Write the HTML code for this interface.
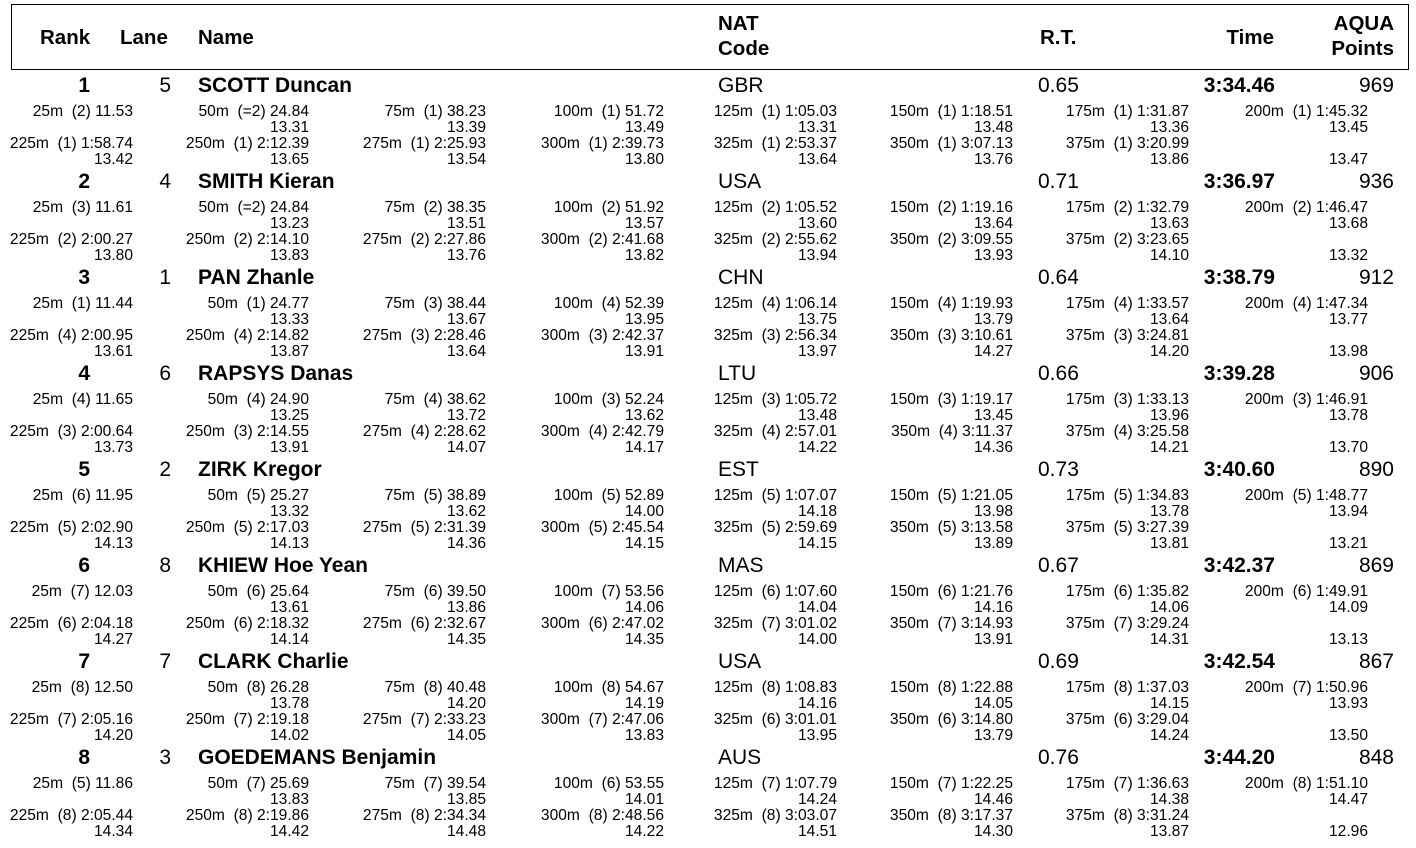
<!DOCTYPE html>
<html><head><meta charset="utf-8"><style>
body{margin:0;width:1416px;height:848px;background:#fff;position:relative;overflow:hidden;font-family:"Liberation Sans",Arial,sans-serif;color:#000}
.hb{position:absolute;left:11px;top:4px;width:1396px;height:64px;border:1.5px solid #000}
.h{position:absolute;font-weight:bold;font-size:20.5px;line-height:24px;white-space:pre}
.blk{position:absolute;left:0;width:1416px;height:96px}
.n{position:absolute;top:0;font-size:21px;line-height:20px;white-space:pre}
.b{font-weight:bold}
.s{position:absolute;width:200px;text-align:right;font-size:15.6px;line-height:16px;white-space:pre}
.c1{left:-67px}.c2{left:109px}.c3{left:286px}.c4{left:464px}.c5{left:637px}.c6{left:813px}.c7{left:989px}.c8{left:1168px}
.ra{top:28px}.rb{top:44px}.rc{top:60px}.rd{top:76px}
.rk{left:40px;width:50px;text-align:right}.ln{left:120px;width:51px;text-align:right}.nm{left:198px}.nt{left:718px}.rt{left:1038px}.tm{left:1175px;width:100px;text-align:right}.pt{left:1294px;width:100px;text-align:right}
</style></head><body>
<div class="hb"></div>
<div class="h" style="left:40px;top:26px">Rank</div>
<div class="h" style="left:120px;top:26px">Lane</div>
<div class="h" style="left:198px;top:26px">Name</div>
<div class="h" style="left:718px;top:12px">NAT</div>
<div class="h" style="left:718px;top:37px">Code</div>
<div class="h" style="left:1040px;top:26px">R.T.</div>
<div class="h" style="left:1174px;top:26px;width:100px;text-align:right">Time</div>
<div class="h" style="left:1294px;top:12px;width:100px;text-align:right">AQUA</div>
<div class="h" style="left:1294px;top:37px;width:100px;text-align:right">Points</div>

<div class="blk" style="top:76px">
<div class="n b rk">1</div><div class="n ln">5</div><div class="n b nm">SCOTT Duncan</div><div class="n nt">GBR</div><div class="n rt">0.65</div><div class="n b tm">3:34.46</div><div class="n pt">969</div>
<div class="s c1 ra">25m  (2) 11.53</div>
<div class="s c2 ra">50m  (=2) 24.84</div><div class="s c2 rb">13.31</div>
<div class="s c3 ra">75m  (1) 38.23</div><div class="s c3 rb">13.39</div>
<div class="s c4 ra">100m  (1) 51.72</div><div class="s c4 rb">13.49</div>
<div class="s c5 ra">125m  (1) 1:05.03</div><div class="s c5 rb">13.31</div>
<div class="s c6 ra">150m  (1) 1:18.51</div><div class="s c6 rb">13.48</div>
<div class="s c7 ra">175m  (1) 1:31.87</div><div class="s c7 rb">13.36</div>
<div class="s c8 ra">200m  (1) 1:45.32</div><div class="s c8 rb">13.45</div>
<div class="s c1 rc">225m  (1) 1:58.74</div><div class="s c1 rd">13.42</div>
<div class="s c2 rc">250m  (1) 2:12.39</div><div class="s c2 rd">13.65</div>
<div class="s c3 rc">275m  (1) 2:25.93</div><div class="s c3 rd">13.54</div>
<div class="s c4 rc">300m  (1) 2:39.73</div><div class="s c4 rd">13.80</div>
<div class="s c5 rc">325m  (1) 2:53.37</div><div class="s c5 rd">13.64</div>
<div class="s c6 rc">350m  (1) 3:07.13</div><div class="s c6 rd">13.76</div>
<div class="s c7 rc">375m  (1) 3:20.99</div><div class="s c7 rd">13.86</div>
<div class="s c8 rd">13.47</div>
</div>

<div class="blk" style="top:172px">
<div class="n b rk">2</div><div class="n ln">4</div><div class="n b nm">SMITH Kieran</div><div class="n nt">USA</div><div class="n rt">0.71</div><div class="n b tm">3:36.97</div><div class="n pt">936</div>
<div class="s c1 ra">25m  (3) 11.61</div>
<div class="s c2 ra">50m  (=2) 24.84</div><div class="s c2 rb">13.23</div>
<div class="s c3 ra">75m  (2) 38.35</div><div class="s c3 rb">13.51</div>
<div class="s c4 ra">100m  (2) 51.92</div><div class="s c4 rb">13.57</div>
<div class="s c5 ra">125m  (2) 1:05.52</div><div class="s c5 rb">13.60</div>
<div class="s c6 ra">150m  (2) 1:19.16</div><div class="s c6 rb">13.64</div>
<div class="s c7 ra">175m  (2) 1:32.79</div><div class="s c7 rb">13.63</div>
<div class="s c8 ra">200m  (2) 1:46.47</div><div class="s c8 rb">13.68</div>
<div class="s c1 rc">225m  (2) 2:00.27</div><div class="s c1 rd">13.80</div>
<div class="s c2 rc">250m  (2) 2:14.10</div><div class="s c2 rd">13.83</div>
<div class="s c3 rc">275m  (2) 2:27.86</div><div class="s c3 rd">13.76</div>
<div class="s c4 rc">300m  (2) 2:41.68</div><div class="s c4 rd">13.82</div>
<div class="s c5 rc">325m  (2) 2:55.62</div><div class="s c5 rd">13.94</div>
<div class="s c6 rc">350m  (2) 3:09.55</div><div class="s c6 rd">13.93</div>
<div class="s c7 rc">375m  (2) 3:23.65</div><div class="s c7 rd">14.10</div>
<div class="s c8 rd">13.32</div>
</div>

<div class="blk" style="top:268px">
<div class="n b rk">3</div><div class="n ln">1</div><div class="n b nm">PAN Zhanle</div><div class="n nt">CHN</div><div class="n rt">0.64</div><div class="n b tm">3:38.79</div><div class="n pt">912</div>
<div class="s c1 ra">25m  (1) 11.44</div>
<div class="s c2 ra">50m  (1) 24.77</div><div class="s c2 rb">13.33</div>
<div class="s c3 ra">75m  (3) 38.44</div><div class="s c3 rb">13.67</div>
<div class="s c4 ra">100m  (4) 52.39</div><div class="s c4 rb">13.95</div>
<div class="s c5 ra">125m  (4) 1:06.14</div><div class="s c5 rb">13.75</div>
<div class="s c6 ra">150m  (4) 1:19.93</div><div class="s c6 rb">13.79</div>
<div class="s c7 ra">175m  (4) 1:33.57</div><div class="s c7 rb">13.64</div>
<div class="s c8 ra">200m  (4) 1:47.34</div><div class="s c8 rb">13.77</div>
<div class="s c1 rc">225m  (4) 2:00.95</div><div class="s c1 rd">13.61</div>
<div class="s c2 rc">250m  (4) 2:14.82</div><div class="s c2 rd">13.87</div>
<div class="s c3 rc">275m  (3) 2:28.46</div><div class="s c3 rd">13.64</div>
<div class="s c4 rc">300m  (3) 2:42.37</div><div class="s c4 rd">13.91</div>
<div class="s c5 rc">325m  (3) 2:56.34</div><div class="s c5 rd">13.97</div>
<div class="s c6 rc">350m  (3) 3:10.61</div><div class="s c6 rd">14.27</div>
<div class="s c7 rc">375m  (3) 3:24.81</div><div class="s c7 rd">14.20</div>
<div class="s c8 rd">13.98</div>
</div>

<div class="blk" style="top:364px">
<div class="n b rk">4</div><div class="n ln">6</div><div class="n b nm">RAPSYS Danas</div><div class="n nt">LTU</div><div class="n rt">0.66</div><div class="n b tm">3:39.28</div><div class="n pt">906</div>
<div class="s c1 ra">25m  (4) 11.65</div>
<div class="s c2 ra">50m  (4) 24.90</div><div class="s c2 rb">13.25</div>
<div class="s c3 ra">75m  (4) 38.62</div><div class="s c3 rb">13.72</div>
<div class="s c4 ra">100m  (3) 52.24</div><div class="s c4 rb">13.62</div>
<div class="s c5 ra">125m  (3) 1:05.72</div><div class="s c5 rb">13.48</div>
<div class="s c6 ra">150m  (3) 1:19.17</div><div class="s c6 rb">13.45</div>
<div class="s c7 ra">175m  (3) 1:33.13</div><div class="s c7 rb">13.96</div>
<div class="s c8 ra">200m  (3) 1:46.91</div><div class="s c8 rb">13.78</div>
<div class="s c1 rc">225m  (3) 2:00.64</div><div class="s c1 rd">13.73</div>
<div class="s c2 rc">250m  (3) 2:14.55</div><div class="s c2 rd">13.91</div>
<div class="s c3 rc">275m  (4) 2:28.62</div><div class="s c3 rd">14.07</div>
<div class="s c4 rc">300m  (4) 2:42.79</div><div class="s c4 rd">14.17</div>
<div class="s c5 rc">325m  (4) 2:57.01</div><div class="s c5 rd">14.22</div>
<div class="s c6 rc">350m  (4) 3:11.37</div><div class="s c6 rd">14.36</div>
<div class="s c7 rc">375m  (4) 3:25.58</div><div class="s c7 rd">14.21</div>
<div class="s c8 rd">13.70</div>
</div>

<div class="blk" style="top:460px">
<div class="n b rk">5</div><div class="n ln">2</div><div class="n b nm">ZIRK Kregor</div><div class="n nt">EST</div><div class="n rt">0.73</div><div class="n b tm">3:40.60</div><div class="n pt">890</div>
<div class="s c1 ra">25m  (6) 11.95</div>
<div class="s c2 ra">50m  (5) 25.27</div><div class="s c2 rb">13.32</div>
<div class="s c3 ra">75m  (5) 38.89</div><div class="s c3 rb">13.62</div>
<div class="s c4 ra">100m  (5) 52.89</div><div class="s c4 rb">14.00</div>
<div class="s c5 ra">125m  (5) 1:07.07</div><div class="s c5 rb">14.18</div>
<div class="s c6 ra">150m  (5) 1:21.05</div><div class="s c6 rb">13.98</div>
<div class="s c7 ra">175m  (5) 1:34.83</div><div class="s c7 rb">13.78</div>
<div class="s c8 ra">200m  (5) 1:48.77</div><div class="s c8 rb">13.94</div>
<div class="s c1 rc">225m  (5) 2:02.90</div><div class="s c1 rd">14.13</div>
<div class="s c2 rc">250m  (5) 2:17.03</div><div class="s c2 rd">14.13</div>
<div class="s c3 rc">275m  (5) 2:31.39</div><div class="s c3 rd">14.36</div>
<div class="s c4 rc">300m  (5) 2:45.54</div><div class="s c4 rd">14.15</div>
<div class="s c5 rc">325m  (5) 2:59.69</div><div class="s c5 rd">14.15</div>
<div class="s c6 rc">350m  (5) 3:13.58</div><div class="s c6 rd">13.89</div>
<div class="s c7 rc">375m  (5) 3:27.39</div><div class="s c7 rd">13.81</div>
<div class="s c8 rd">13.21</div>
</div>

<div class="blk" style="top:556px">
<div class="n b rk">6</div><div class="n ln">8</div><div class="n b nm">KHIEW Hoe Yean</div><div class="n nt">MAS</div><div class="n rt">0.67</div><div class="n b tm">3:42.37</div><div class="n pt">869</div>
<div class="s c1 ra">25m  (7) 12.03</div>
<div class="s c2 ra">50m  (6) 25.64</div><div class="s c2 rb">13.61</div>
<div class="s c3 ra">75m  (6) 39.50</div><div class="s c3 rb">13.86</div>
<div class="s c4 ra">100m  (7) 53.56</div><div class="s c4 rb">14.06</div>
<div class="s c5 ra">125m  (6) 1:07.60</div><div class="s c5 rb">14.04</div>
<div class="s c6 ra">150m  (6) 1:21.76</div><div class="s c6 rb">14.16</div>
<div class="s c7 ra">175m  (6) 1:35.82</div><div class="s c7 rb">14.06</div>
<div class="s c8 ra">200m  (6) 1:49.91</div><div class="s c8 rb">14.09</div>
<div class="s c1 rc">225m  (6) 2:04.18</div><div class="s c1 rd">14.27</div>
<div class="s c2 rc">250m  (6) 2:18.32</div><div class="s c2 rd">14.14</div>
<div class="s c3 rc">275m  (6) 2:32.67</div><div class="s c3 rd">14.35</div>
<div class="s c4 rc">300m  (6) 2:47.02</div><div class="s c4 rd">14.35</div>
<div class="s c5 rc">325m  (7) 3:01.02</div><div class="s c5 rd">14.00</div>
<div class="s c6 rc">350m  (7) 3:14.93</div><div class="s c6 rd">13.91</div>
<div class="s c7 rc">375m  (7) 3:29.24</div><div class="s c7 rd">14.31</div>
<div class="s c8 rd">13.13</div>
</div>

<div class="blk" style="top:652px">
<div class="n b rk">7</div><div class="n ln">7</div><div class="n b nm">CLARK Charlie</div><div class="n nt">USA</div><div class="n rt">0.69</div><div class="n b tm">3:42.54</div><div class="n pt">867</div>
<div class="s c1 ra">25m  (8) 12.50</div>
<div class="s c2 ra">50m  (8) 26.28</div><div class="s c2 rb">13.78</div>
<div class="s c3 ra">75m  (8) 40.48</div><div class="s c3 rb">14.20</div>
<div class="s c4 ra">100m  (8) 54.67</div><div class="s c4 rb">14.19</div>
<div class="s c5 ra">125m  (8) 1:08.83</div><div class="s c5 rb">14.16</div>
<div class="s c6 ra">150m  (8) 1:22.88</div><div class="s c6 rb">14.05</div>
<div class="s c7 ra">175m  (8) 1:37.03</div><div class="s c7 rb">14.15</div>
<div class="s c8 ra">200m  (7) 1:50.96</div><div class="s c8 rb">13.93</div>
<div class="s c1 rc">225m  (7) 2:05.16</div><div class="s c1 rd">14.20</div>
<div class="s c2 rc">250m  (7) 2:19.18</div><div class="s c2 rd">14.02</div>
<div class="s c3 rc">275m  (7) 2:33.23</div><div class="s c3 rd">14.05</div>
<div class="s c4 rc">300m  (7) 2:47.06</div><div class="s c4 rd">13.83</div>
<div class="s c5 rc">325m  (6) 3:01.01</div><div class="s c5 rd">13.95</div>
<div class="s c6 rc">350m  (6) 3:14.80</div><div class="s c6 rd">13.79</div>
<div class="s c7 rc">375m  (6) 3:29.04</div><div class="s c7 rd">14.24</div>
<div class="s c8 rd">13.50</div>
</div>

<div class="blk" style="top:748px">
<div class="n b rk">8</div><div class="n ln">3</div><div class="n b nm">GOEDEMANS Benjamin</div><div class="n nt">AUS</div><div class="n rt">0.76</div><div class="n b tm">3:44.20</div><div class="n pt">848</div>
<div class="s c1 ra">25m  (5) 11.86</div>
<div class="s c2 ra">50m  (7) 25.69</div><div class="s c2 rb">13.83</div>
<div class="s c3 ra">75m  (7) 39.54</div><div class="s c3 rb">13.85</div>
<div class="s c4 ra">100m  (6) 53.55</div><div class="s c4 rb">14.01</div>
<div class="s c5 ra">125m  (7) 1:07.79</div><div class="s c5 rb">14.24</div>
<div class="s c6 ra">150m  (7) 1:22.25</div><div class="s c6 rb">14.46</div>
<div class="s c7 ra">175m  (7) 1:36.63</div><div class="s c7 rb">14.38</div>
<div class="s c8 ra">200m  (8) 1:51.10</div><div class="s c8 rb">14.47</div>
<div class="s c1 rc">225m  (8) 2:05.44</div><div class="s c1 rd">14.34</div>
<div class="s c2 rc">250m  (8) 2:19.86</div><div class="s c2 rd">14.42</div>
<div class="s c3 rc">275m  (8) 2:34.34</div><div class="s c3 rd">14.48</div>
<div class="s c4 rc">300m  (8) 2:48.56</div><div class="s c4 rd">14.22</div>
<div class="s c5 rc">325m  (8) 3:03.07</div><div class="s c5 rd">14.51</div>
<div class="s c6 rc">350m  (8) 3:17.37</div><div class="s c6 rd">14.30</div>
<div class="s c7 rc">375m  (8) 3:31.24</div><div class="s c7 rd">13.87</div>
<div class="s c8 rd">12.96</div>
</div>
</body></html>
